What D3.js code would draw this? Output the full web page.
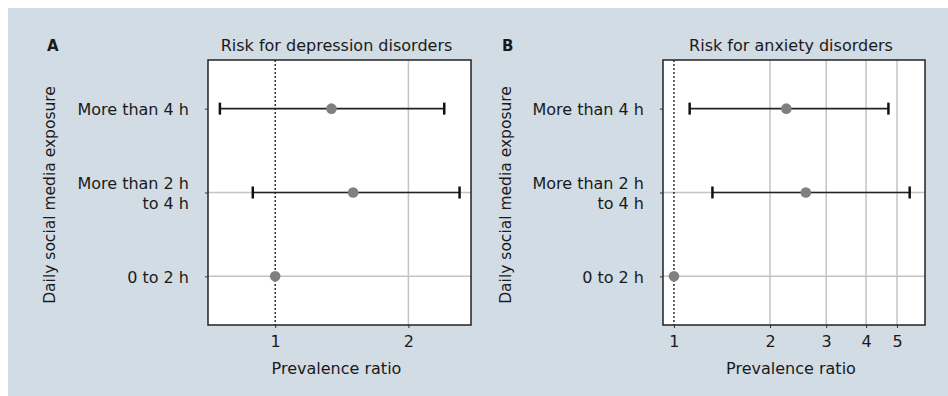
<!DOCTYPE html>
<html>
<head>
<meta charset="utf-8">
<script src="https://cdn.jsdelivr.net/npm/d3@7"></script>
<style>
  html, body { margin: 0; padding: 0; background: #fff; }
  svg { display: block; }
  text { font-family: 'DejaVu Sans', sans-serif; fill: #1a1a1a; }
</style>
</head>
<body>
<svg id="chart" width="948" height="396"></svg>
<script>
/* exposure categories, top to bottom */
const exposure = ['More than 4 h', 'More than 2 h|to 4 h', '0 to 2 h']

/* prevalence ratios with 95% CI: depression */
const depEst = [1.34, 1.50, 1]
const depLow = [0.75, 0.89, null]
const depHigh = [2.41, 2.61, null]

/* prevalence ratios with 95% CI: anxiety */
const anxEst = [2.25, 2.59, 1]
const anxLow = [1.12, 1.32, null]
const anxHigh = [4.70, 5.48, null]

const depTicks = [1, 2]
const anxTicks = [1, 2, 3, 4, 5]

/* panel setup */
const panels = [
  { tag: 'A', title: 'Risk for depression disorders', est: depEst, low: depLow, high: depHigh,
    ticks: depTicks, domain: [0.705, 2.77], x0: 208, x1: 471, labelX: 47, yTitleX: 50 },
  { tag: 'B', title: 'Risk for anxiety disorders', est: anxEst, low: anxLow, high: anxHigh,
    ticks: anxTicks, domain: [0.924, 6.12], x0: 663, x1: 925, labelX: 502, yTitleX: 506 }
]

const plotTop = 60, plotBottom = 325
const fs = '16px'

const svg = d3.select('#chart')

/* background */
svg.append('rect')
  .attr('x', 8).attr('y', 8)
  .attr('width', 940).attr('height', 388)
  .attr('fill', '#d2dce5')

const yScale = d3.scalePoint().domain(exposure).range([plotTop, plotBottom]).padding(0.58)

panels.forEach(function (p) {
  const x = d3.scaleLog().domain(p.domain).range([p.x0, p.x1])
  const g = svg.append('g')

  /* plot area */
  g.append('rect')
    .attr('x', p.x0).attr('y', plotTop)
    .attr('width', p.x1 - p.x0).attr('height', plotBottom - plotTop)
    .attr('fill', '#fff')

  /* vertical grid (not at 1) */
  g.selectAll('.vgrid')
    .data(p.ticks.filter((d) => d !== 1))
    .join('line')
    .attr('x1', (d) => x(d)).attr('x2', (d) => x(d))
    .attr('y1', plotTop).attr('y2', plotBottom)
    .attr('stroke', '#c4c4c4').attr('stroke-width', 1.5)

  /* horizontal grid for rows 2 and 3 */
  g.selectAll('.hgrid')
    .data(exposure.slice(1))
    .join('line')
    .attr('x1', p.x0).attr('x2', p.x1)
    .attr('y1', (d) => yScale(d)).attr('y2', (d) => yScale(d))
    .attr('stroke', '#c4c4c4').attr('stroke-width', 1.5)

  /* reference line at 1 */
  g.append('line')
    .attr('x1', x(1)).attr('x2', x(1))
    .attr('y1', plotTop).attr('y2', plotBottom)
    .attr('stroke', '#111').attr('stroke-width', 1.3)
    .attr('stroke-dasharray', '2,2')

  /* error bars */
  const rows = exposure.map((c, i) => ({ cat: c, est: p.est[i], low: p.low[i], high: p.high[i] }))
  const bars = rows.filter((d) => d.low !== null)

  g.selectAll('.ci')
    .data(bars)
    .join('line')
    .attr('x1', (d) => x(d.low)).attr('x2', (d) => x(d.high))
    .attr('y1', (d) => yScale(d.cat)).attr('y2', (d) => yScale(d.cat))
    .attr('stroke', '#222').attr('stroke-width', 1.6)

  bars.forEach(function (d) {
    [d.low, d.high].forEach(function (v) {
      g.append('line')
        .attr('x1', x(v)).attr('x2', x(v))
        .attr('y1', yScale(d.cat) - 6).attr('y2', yScale(d.cat) + 6)
        .attr('stroke', '#111').attr('stroke-width', 2.5)
    })
  })

  /* point estimates */
  g.selectAll('.pt')
    .data(rows)
    .join('circle')
    .attr('cx', (d) => x(d.est)).attr('cy', (d) => yScale(d.cat))
    .attr('r', 5.3)
    .attr('fill', '#808080')

  /* frame */
  g.append('rect')
    .attr('x', p.x0).attr('y', plotTop)
    .attr('width', p.x1 - p.x0).attr('height', plotBottom - plotTop)
    .attr('fill', 'none').attr('stroke', '#222').attr('stroke-width', 1.5)

  /* x axis */
  const xAxis = d3.axisBottom(x).tickValues(p.ticks).tickFormat(d3.format('d')).tickSize(3).tickPadding(8)
  const ax = g.append('g').attr('transform', `translate(0,${plotBottom})`).call(xAxis)
  ax.select('.domain').remove()
  ax.selectAll('line').attr('stroke', '#333')
  ax.selectAll('text').style('font-size', fs).style('font-family', 'DejaVu Sans').attr('fill', '#1a1a1a')

  /* y axis */
  const yAxis = d3.axisLeft(yScale).tickSize(3).tickPadding(10).tickFormat('')
  const ay = g.append('g').attr('transform', `translate(${p.x0},0)`).call(yAxis)
  ay.select('.domain').remove()
  ay.selectAll('line').attr('stroke', '#333')

  /* category labels, split on | */
  exposure.forEach(function (c) {
    const lines = c.split('|')
    const t = g.append('text')
      .attr('x', p.x0 - 19)
      .attr('text-anchor', 'end')
      .style('font-size', fs)
    lines.forEach(function (ln, i) {
      t.append('tspan')
        .attr('x', p.x0 - 19)
        .attr('y', yScale(c) + 6.5 + (i - (lines.length - 1) / 2) * 20)
        .text(ln)
    })
  })

  /* titles */
  g.append('text')
    .attr('x', (p.x0 + p.x1) / 2 - 3).attr('y', 51)
    .attr('text-anchor', 'middle')
    .style('font-size', fs)
    .text(p.title)

  g.append('text')
    .attr('x', (p.x0 + p.x1) / 2 - 3).attr('y', 374)
    .attr('text-anchor', 'middle')
    .style('font-size', fs)
    .text('Prevalence ratio')

  g.append('text')
    .attr('transform', `translate(${p.yTitleX + 5},195) rotate(-90)`)
    .attr('text-anchor', 'middle')
    .style('font-size', '15.5px')
    .text('Daily social media exposure')

  g.append('text')
    .attr('x', p.labelX).attr('y', 51)
    .style('font-size', '15px')
    .style('font-weight', 'bold')
    .text(p.tag)
})
</script>
</body>
</html>
